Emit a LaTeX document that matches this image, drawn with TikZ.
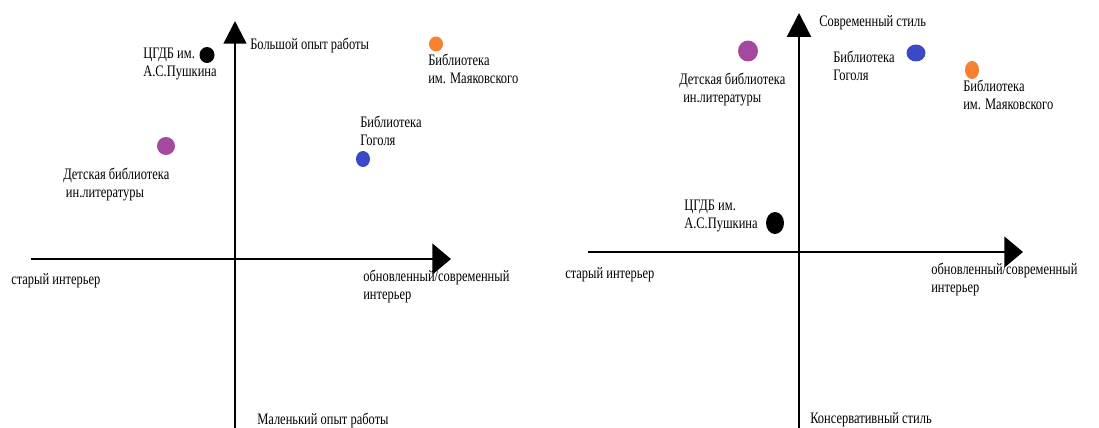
\documentclass[tikz,border=0pt]{standalone}
\usepackage{fontspec}
\setmainfont{Liberation Serif}[FakeStretch=0.78]
\usetikzlibrary{arrows.meta,shapes.geometric}

\definecolor{dotorange}{RGB}{247,129,48}
\definecolor{dotpurple}{RGB}{163,73,160}
\definecolor{dotblue}{RGB}{59,72,200}

\tikzset{
  axisline/.style={line width=1.8pt},
  haxis/.style={axisline, -{Triangle[length=14pt,width=23pt]}},
  vaxis/.style={axisline, -{Triangle[length=17pt,width=17pt]}},
  lbl/.style={anchor=west, align=left, inner sep=0pt, font=\fontsize{12}{13.5}\selectfont},
  dot/.style={ellipse, inner sep=0pt, draw=none},
}

\begin{document}
\begin{tikzpicture}[x=0.75pt,y=-0.75pt]
\useasboundingbox (0,0) rectangle (1099,428);

% left map: experience / interior
\coordinate (lxs) at (31,259);
\coordinate (lxe) at (451,259);
\coordinate (lys) at (235,428);
\coordinate (lye) at (235,21);
\draw[haxis] (lxs) -- (lxe);
\draw[vaxis] (lys) -- (lye);

\node[lbl] (ltop) at (250,45) {Большой опыт работы};
\node[lbl] (lbot) at (257,420) {Маленький опыт работы};
\node[lbl] (lleft) at (11,281) {старый интерьер};
\node[lbl] (lright) at (363,286.5) {обновленный/современный\\интерьер};

\node[dot, fill=black, minimum width=11.25pt, minimum height=12pt] (lpush) at (207,55) {};
\node[lbl] (lpushl) at (143,63.5) {ЦГДБ им.\\А.С.Пушкина};
\node[dot, fill=dotorange, minimum width=10.5pt, minimum height=11.25pt] (lmaya) at (436,44) {};
\node[lbl] (lmayal) at (428,68.5) {Библиотека\\им. Маяковского};
\node[dot, fill=dotpurple, minimum width=13.5pt, minimum height=13.5pt] (lkids) at (166,146) {};
\node[lbl] (lkidsl) at (63,184) {Детская библиотека\\\hspace{2pt}ин.литературы};
\node[dot, fill=dotblue, minimum width=10.5pt, minimum height=12pt] (lgog) at (363,159) {};
\node[lbl] (lgogl) at (360,130.5) {Библиотека\\Гоголя};

% right map: style / interior
\coordinate (rxs) at (588,252);
\coordinate (rxe) at (1023,252);
\coordinate (rys) at (799,428);
\coordinate (rye) at (799,13);
\draw[haxis] (rxs) -- (rxe);
\draw[vaxis, -{Triangle[length=18pt,width=18pt]}] (rys) -- (rye);

\node[lbl] (rtop) at (819,23) {Современный стиль};
\node[lbl] (rbot) at (810,420) {Консервативный стиль};
\node[lbl] (rleft) at (565,275) {старый интерьер};
\node[lbl] (rright) at (931,279.5) {обновленный/современный\\интерьер};

\node[dot, fill=dotpurple, minimum width=15pt, minimum height=15.75pt] (rkids) at (748,51) {};
\node[lbl] (rkidsl) at (679,90) {Детская библиотека\\\hspace{3pt}ин.литературы};
\node[dot, fill=dotblue, minimum width=14.25pt, minimum height=12.75pt] (rgog) at (916,53) {};
\node[lbl] (rgogl) at (833,65.5) {Библиотека\\Гоголя};
\node[dot, fill=dotorange, minimum width=10.5pt, minimum height=13.5pt] (rmaya) at (972,70) {};
\node[lbl] (rmayal) at (963,94.5) {Библиотека\\им. Маяковского};
\node[dot, fill=black, minimum width=13.5pt, minimum height=16.5pt] (rpush) at (775,223) {};
\node[lbl] (rpushl) at (684,215.5) {ЦГДБ им.\\А.С.Пушкина};
\end{tikzpicture}
\end{document}
